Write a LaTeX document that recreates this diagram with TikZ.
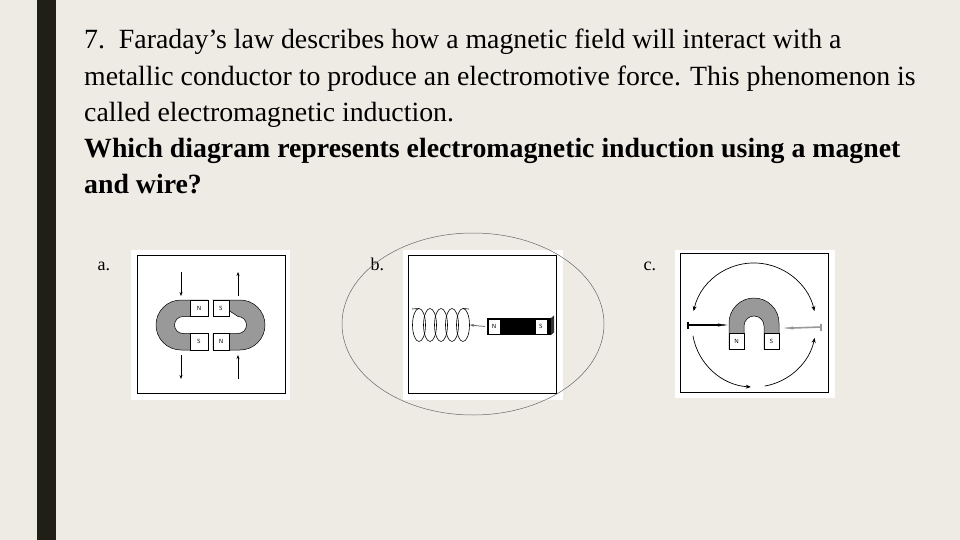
\documentclass[tikz,border=0pt]{standalone}
\usepackage{fontspec}
\setmainfont{Liberation Serif}
\usetikzlibrary{arrows.meta}
\definecolor{bg}{HTML}{EEEBE4}
\definecolor{bar}{HTML}{1F1F16}
\definecolor{mgray}{HTML}{999999}
\begin{document}
\begin{tikzpicture}[x=1pt,y=-1pt,
  frame/.style={fill=white},
  inner/.style={draw=black,line width=1pt},
  pole/.style={draw=black,fill=white,line width=0.4pt,font=\fontsize{6}{6}\sffamily,inner sep=0pt},
  arr/.style={-{Stealth[length=4pt,width=3pt]},line width=0.8pt},
  lbl/.style={font=\fontsize{18}{18}\selectfont,anchor=base west}]
\fill[bg] (0,0) rectangle (960,540);
\useasboundingbox (0,0) rectangle (960,540);
\fill[bar] (37,0) rectangle (56,540);
\node[anchor=north west,align=left,inner sep=0pt,font=\fontsize{27.8}{36.3}\selectfont] (txt) at (84,29)
{\frenchspacing 7.\ \ Faraday’s law describes how a magnetic field will interact with a\\
metallic conductor to produce an electromotive force. This phenomenon is\\
called electromagnetic induction.\\
\textbf{Which diagram represents electromagnetic induction using a magnet}\\
\textbf{and wire?}};
% labels
\node[lbl] (la) at (94,270) {a.};
\node[lbl] (lb) at (367,270) {b.};
\node[lbl] (lc) at (640,270) {c.};
% panel a
\fill[frame] (131,250) rectangle (290,400);
\draw[inner] (137,255) rectangle (285,393);
\fill[mgray,draw=black,line width=0.5pt] (208,300) -- (181,300) arc[start angle=-90,end angle=-270,radius=25] -- (208,350) -- (208,333.5) -- (183,333.5) arc[start angle=-270,end angle=-90,radius=8.5] -- (208,316.5) -- cycle;
\fill[mgray,draw=black,line width=0.5pt] (213,300) -- (240,300) arc[start angle=-90,end angle=90,radius=25] -- (213,350) -- (213,333.5) -- (238,333.5) arc[start angle=90,end angle=-90,radius=8.5] -- (238,316.5) -- cycle;
\node[pole,minimum width=18,minimum height=16.5] (an1) at (199,308.3) {N};
\node[pole,minimum width=18,minimum height=16.5] (as1) at (199,341.7) {S};
\node[pole,minimum width=16,minimum height=16.5] (as2) at (221,308.3) {S};
\node[pole,minimum width=16,minimum height=16.5] (an2) at (221,341.7) {N};
\coordinate (a1) at (181,272); \coordinate (a2) at (181,296);
\coordinate (a3) at (181,355); \coordinate (a4) at (181,379);
\coordinate (a5) at (238,272); \coordinate (a6) at (238,296);
\coordinate (a7) at (238,355); \coordinate (a8) at (238,379);
\draw[arr] (a1) -- (a2); \draw[arr] (a3) -- (a4);
\draw[arr] (a6) -- (a5); \draw[arr] (a8) -- (a7);
% panel b
\fill[frame] (403,250) rectangle (563,400);
\draw[inner] (408,255) rectangle (556,393);
\foreach \i in {0,...,4} {
  \draw[line width=0.6pt] (419+11*\i,325) ellipse[x radius=6.5,y radius=16.5];
}
\draw[line width=0.6pt] (412,309) -- (419,308.5);
\draw[line width=0.6pt] (463,308.5) -- (469,309);
\fill[black!80] (551,318) -- (554,315.5) -- (554,332.5) -- (551,335) -- cycle;
\fill[black] (487,318) rectangle (551,335);
\node[pole,minimum width=12,minimum height=15] (bn) at (494,326.5) {N};
\node[pole,minimum width=12,minimum height=15] (bs) at (541,326.5) {S};
\coordinate (b1) at (470,325);
\draw[arr,mgray!70!black] (bn.west) ++(-3,0) -- (b1);
\draw[black!60,line width=0.5pt] (473,324) ellipse[x radius=131,y radius=91];
% panel c
\fill[frame] (675,250) rectangle (835,398);
\draw[inner] (680,253) rectangle (828,392);
\fill[mgray,draw=black,line width=0.5pt] (729,349) -- (729,323) arc[start angle=180,end angle=360,radius=25] -- (779,349) -- (764,349) -- (764,326) arc[start angle=0,end angle=-180,radius=10] -- (744,349) -- cycle;
\node[pole,minimum width=15,minimum height=16] (cn) at (736.5,341) {N};
\node[pole,minimum width=15,minimum height=16] (cs) at (771.5,341) {S};
\draw[line width=1.6pt] (688,325) -- (718,325);
\draw[line width=0.4pt,fill=black] (718,323.8) -- (726,325) -- (718,326.2) -- cycle;
\draw[line width=1.6pt] (688,321.5) -- (688,328.5);
\draw[mgray,line width=1.6pt] (793,328) -- (821,327);
\draw[mgray,line width=0.4pt,fill=mgray] (793,326.8) -- (785,328) -- (793,329.2) -- cycle;
\draw[mgray,line width=1.6pt] (821,323.5) -- (821,330.5);
\coordinate (cc) at (754,325);
\draw[{Stealth[length=5pt,width=4pt]}-{Stealth[length=5pt,width=4pt]},line width=0.7pt] ([shift={(-167:62)}]cc) arc[start angle=-167,end angle=-13,radius=62];
\draw[-{Stealth[length=5pt,width=4pt]},line width=0.7pt] ([shift={(-190:62)}]cc) arc[start angle=-190,end angle=-267,radius=62];
\draw[-{Stealth[length=5pt,width=4pt]},line width=0.7pt] ([shift={(-280:62)}]cc) arc[start angle=-280,end angle=-348,radius=62];
\end{tikzpicture}
\end{document}
